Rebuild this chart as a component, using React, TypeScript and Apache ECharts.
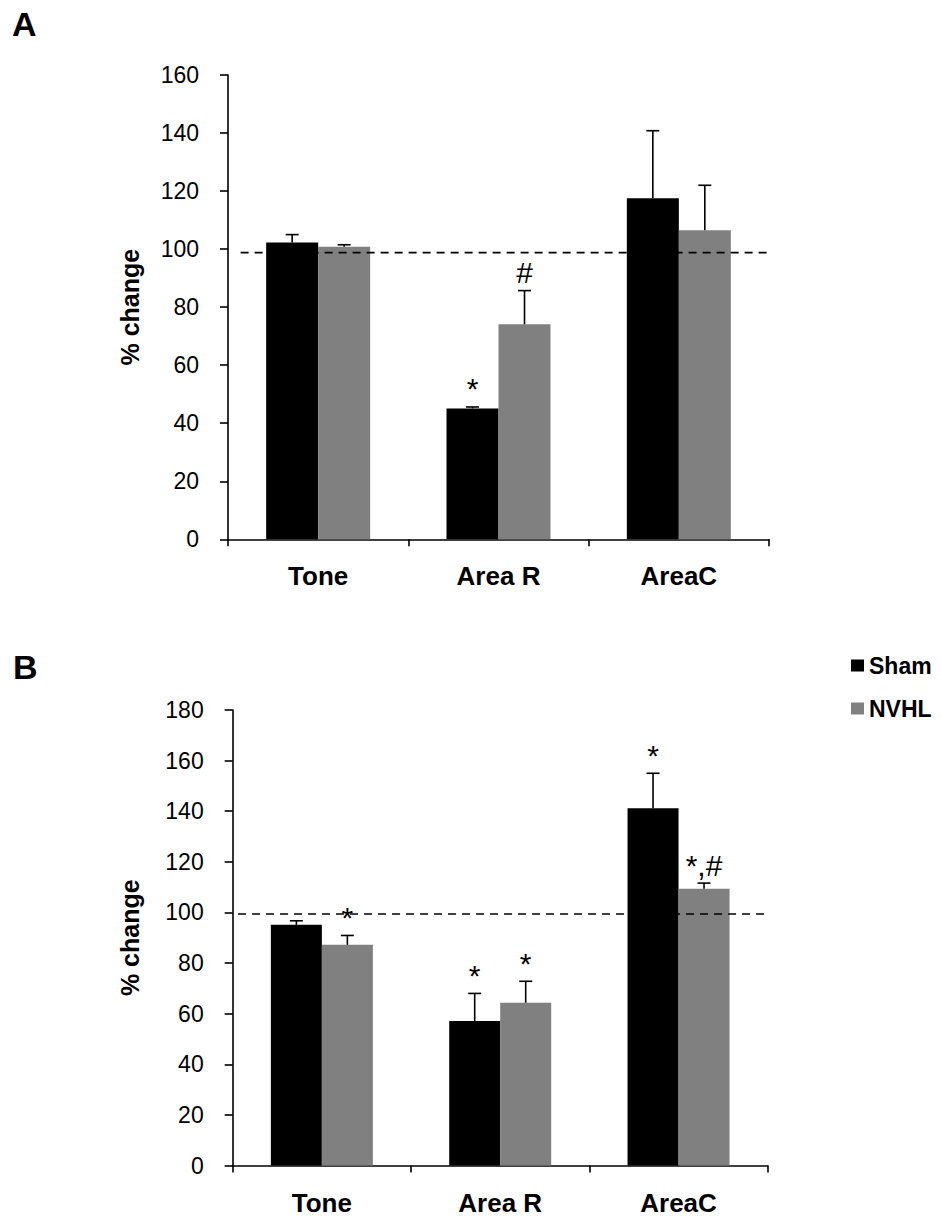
import React, { useEffect, useRef } from "react";
import * as echarts from "echarts";

const categories = ["Tone", "Area R", "AreaC"];
const seriesNames = ["Sham", "NVHL"];

// Panel A
const shamA = [102.3, 45.1, 117.5];
const shamErrA = [2.7, 0.5, 23.3];
const nvhlA = [100.8, 74.1, 106.5];
const nvhlErrA = [0.7, 11.6, 15.5];
const shamMarksA = ["", "*", ""];
const nvhlMarksA = ["", "#", ""];
const refValueA = 98.8;
const refSpanA = [0.07, 3.15];

// Panel B
const shamB = [95.1, 57.1, 141.2];
const shamErrB = [1.6, 10.9, 13.8];
const nvhlB = [87.2, 64.3, 109.4];
const nvhlErrB = [3.7, 8.5, 2.2];
const shamMarksB = ["", "*", "*"];
const nvhlMarksB = ["*", "*", "*,#"];
const refValueB = 99.4;
const refSpanB = [0.03, 3.2];

const FONT = "'Liberation Sans', Arial, Helvetica, sans-serif";
const BLACK = "#000000";
const GRAY = "#808080";

function errSeries(
  values: number[],
  errs: number[],
  marks: string[],
  offset: number,
  gridIdx: number
) {
  return {
    type: "custom",
    xAxisIndex: gridIdx,
    yAxisIndex: gridIdx,
    z: 5,
    silent: true,
    data: values.map((v, i) => [i, v, errs[i]]),
    renderItem: (params: any, api: any) => {
      const i = api.value(0);
      const v = api.value(1);
      const e = api.value(2);
      const base = api.coord([i, v]);
      const top = api.coord([i, v + e]);
      const x = base[0] + offset;
      const children: any[] = [
        {
          type: "line",
          shape: { x1: x, y1: base[1], x2: x, y2: top[1] },
          style: { stroke: BLACK, lineWidth: 1.6 },
        },
        {
          type: "line",
          shape: { x1: x - 6.5, y1: top[1], x2: x + 6.5, y2: top[1] },
          style: { stroke: BLACK, lineWidth: 1.6 },
        },
      ];
      const mark = marks[params.dataIndex];
      if (mark) {
        children.push({
          type: "text",
          x: x,
          y: top[1] - 3,
          style: {
            text: mark,
            fill: BLACK,
            fontSize: 30,
            fontFamily: FONT,
            align: "center",
            verticalAlign: "bottom",
          },
        });
      }
      return { type: "group", children };
    },
  };
}

function refLine(value: number, span: number[], gridIdx: number) {
  return {
    type: "line",
    xAxisIndex: gridIdx + 2,
    yAxisIndex: gridIdx,
    z: 10,
    silent: true,
    clip: false,
    symbol: "none",
    data: [
      [span[0], value],
      [span[1], value],
    ],
    lineStyle: { color: BLACK, width: 1.6, type: [8, 6] },
  };
}

export default function App() {
  const ref = useRef<HTMLDivElement>(null);

  useEffect(() => {
    document.body.style.margin = "0";
    if (!ref.current) return;
    const chart = echarts.init(ref.current, null, { renderer: "svg" });

    const catAxis = (gridIndex: number) => ({
      type: "category",
      gridIndex,
      data: categories,
      boundaryGap: true,
      axisLine: { lineStyle: { color: BLACK, width: 1.6 } },
      axisTick: { show: true, length: 7, lineStyle: { color: BLACK, width: 1.6 } },
      axisLabel: {
        color: BLACK,
        fontSize: 26,
        fontWeight: "bold",
        fontFamily: FONT,
        margin: 24,
      },
    });

    const valAxis = (gridIndex: number, max: number, fontSize: number, nameGap: number) => ({
      type: "value",
      gridIndex,
      min: 0,
      max,
      interval: 20,
      name: "% change",
      nameLocation: "middle",
      nameRotate: 90,
      nameGap,
      nameTextStyle: {
        color: BLACK,
        fontSize: 25,
        fontWeight: "bold",
        fontFamily: FONT,
      },
      axisLine: { show: true, lineStyle: { color: BLACK, width: 1.6 } },
      axisTick: { show: true, length: 8, lineStyle: { color: BLACK, width: 1.6 } },
      splitLine: { show: false },
      axisLabel: { color: BLACK, fontSize, fontFamily: FONT, margin: 29 },
    });

    const hiddenX = (gridIndex: number) => ({
      type: "value",
      gridIndex,
      min: 0,
      max: 3,
      show: false,
    });

    const option: any = {
      animation: false,
      backgroundColor: "#ffffff",
      textStyle: { fontFamily: FONT },
      graphic: [
        {
          type: "text",
          left: 12,
          top: 7,
          style: { text: "A", fontSize: 34, fontWeight: "bold", fontFamily: FONT, fill: BLACK },
        },
        {
          type: "text",
          left: 13,
          top: 650,
          style: { text: "B", fontSize: 34, fontWeight: "bold", fontFamily: FONT, fill: BLACK },
        },
      ],
      legend: {
        data: seriesNames,
        orient: "vertical",
        left: 846,
        top: 649,
        itemWidth: 13,
        itemHeight: 12,
        itemGap: 20,
        icon: "rect",
        textStyle: { color: BLACK, fontSize: 23, fontWeight: "bold", fontFamily: FONT, padding: [0, 0, 0, 0] },
      },
      grid: [
        { left: 228, top: 75, width: 541, height: 464.3 },
        { left: 232.7, top: 710, width: 535, height: 455.5 },
      ],
      xAxis: [catAxis(0), catAxis(1), hiddenX(0), hiddenX(1)],
      yAxis: [valAxis(0, 160, 23, 86), valAxis(1, 180, 23, 90)],
      series: [
        {
          name: seriesNames[0],
          type: "bar",
          xAxisIndex: 0,
          yAxisIndex: 0,
          data: shamA,
          barWidth: 52,
          barGap: "0%",
          itemStyle: { color: BLACK },
        },
        {
          name: seriesNames[1],
          type: "bar",
          xAxisIndex: 0,
          yAxisIndex: 0,
          data: nvhlA,
          barWidth: 52,
          barGap: "0%",
          itemStyle: { color: GRAY },
        },
        {
          name: seriesNames[0],
          type: "bar",
          xAxisIndex: 1,
          yAxisIndex: 1,
          data: shamB,
          barWidth: 51,
          barGap: "0%",
          itemStyle: { color: BLACK },
        },
        {
          name: seriesNames[1],
          type: "bar",
          xAxisIndex: 1,
          yAxisIndex: 1,
          data: nvhlB,
          barWidth: 51,
          barGap: "0%",
          itemStyle: { color: GRAY },
        },
        errSeries(shamA, shamErrA, shamMarksA, -26, 0),
        errSeries(nvhlA, nvhlErrA, nvhlMarksA, 26, 0),
        errSeries(shamB, shamErrB, shamMarksB, -25.5, 1),
        errSeries(nvhlB, nvhlErrB, nvhlMarksB, 25.5, 1),
        refLine(refValueA, refSpanA, 0),
        refLine(refValueB, refSpanB, 1),
      ],
    };

    chart.setOption(option);
    return () => chart.dispose();
  }, []);

  return <div ref={ref} style={{ width: 941, height: 1218 }} />;
}
